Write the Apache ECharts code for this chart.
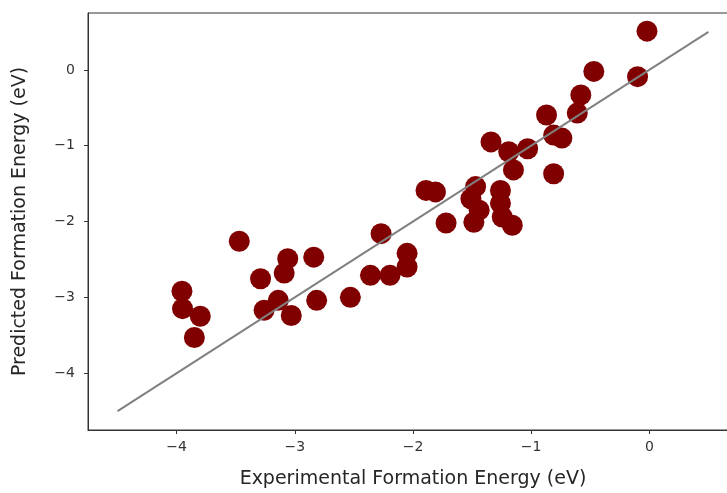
<!DOCTYPE html>
<html>
<head>
<meta charset="utf-8">
<script src="https://cdn.jsdelivr.net/npm/echarts@6/dist/echarts.min.js"></script>
<style>
  html, body { margin: 0; padding: 0; background: #fff; }
  #chart { width: 727px; height: 493px; }
</style>
</head>
<body>
<div id="chart"></div>
<script>
// experimental vs predicted formation energy (eV)
const expVals = [
  -0.02, -0.10, -0.47, -0.58, -0.61, -0.87, -0.81, -0.74, -1.03, -1.19,
  -1.34, -1.15, -0.81, -1.89, -1.81, -1.47, -1.51, -1.26, -1.26, -1.245,
  -1.16, -1.44, -1.485, -1.72, -2.05, -2.05, -2.195, -2.36, -2.27, -2.53,
  -2.815, -2.84, -3.03, -3.06, -3.09, -3.14, -3.26, -3.29, -3.47, -3.955,
  -3.95, -3.80, -3.85
];
const predVals = [
  0.51, -0.09, -0.02, -0.33, -0.57, -0.595, -0.86, -0.90, -1.04, -1.08,
  -0.95, -1.32, -1.37, -1.59, -1.61, -1.54, -1.70, -1.59, -1.76, -1.94,
  -2.05, -1.85, -2.01, -2.02, -2.60, -2.42, -2.71, -2.71, -2.16, -3.00,
  -3.04, -2.47, -3.24, -2.49, -2.68, -3.04, -3.17, -2.755, -2.26, -2.92,
  -3.15, -3.25, -3.53
];
// y = x reference line
const idealLine = [[-4.5, -4.5], [0.5, 0.5]];
const tickVals = [-4, -3, -2, -1, 0];

const points = expVals.map((x, i) => [x, predVals[i]]);
const fmt = v => String(v).replace('-', '\u2212');

const chart = echarts.init(document.getElementById('chart'));
chart.setOption({
  animation: false,
  textStyle: { fontFamily: 'DejaVu Sans' },
  grid: {
    left: 88, top: 13, width: 650, height: 417,
    outerBoundsMode: 'none', containLabel: false,
    show: true, borderColor: '#333', borderWidth: 1
  },
  xAxis: {
    type: 'value', min: -4.75, max: 0.75,
    name: 'Experimental Formation Energy (eV)',
    nameLocation: 'middle', nameGap: 40,
    nameTextStyle: { fontSize: 19, color: '#262626' },
    splitLine: { show: false },
    axisLine: { show: true, onZero: false, lineStyle: { color: '#333' } },
    axisTick: { show: true, length: 4, customValues: tickVals, lineStyle: { color: '#333' } },
    axisLabel: { customValues: tickVals, formatter: fmt, fontSize: 14, color: '#333', margin: 10 }
  },
  yAxis: {
    type: 'value', min: -4.75, max: 0.75,
    name: 'Predicted Formation Energy (eV)',
    nameLocation: 'middle', nameGap: 58,
    nameTextStyle: { fontSize: 19, color: '#262626' },
    splitLine: { show: false },
    axisLine: { show: true, onZero: false, lineStyle: { color: '#333' } },
    axisTick: { show: true, length: 4, customValues: tickVals, lineStyle: { color: '#333' } },
    axisLabel: { customValues: tickVals, formatter: fmt, fontSize: 14, color: '#333', margin: 13 }
  },
  series: [
    {
      type: 'scatter',
      data: points,
      symbolSize: 21,
      itemStyle: { color: '#800000', opacity: 1 }
    },
    {
      type: 'line',
      data: idealLine,
      symbol: 'none',
      z: 3,
      lineStyle: { color: '#808080', width: 2 }
    }
  ]
});
</script>
</body>
</html>
